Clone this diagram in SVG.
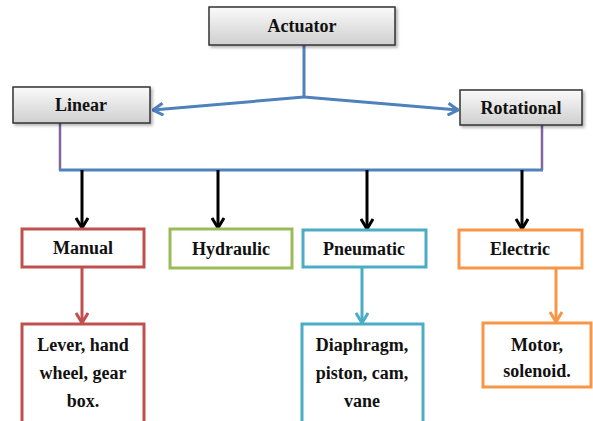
<svg xmlns="http://www.w3.org/2000/svg" width="593" height="421" viewBox="0 0 593 421">
<style>
.t{font-family:"Liberation Serif","Times New Roman",serif;font-weight:bold;font-size:18px;fill:#111;text-anchor:middle}
.g{fill:url(#gr);stroke:#333;stroke-width:1.5}
.c{fill:#fff;stroke-width:3}
.ln{fill:none;stroke-linecap:butt}
</style>
<defs>
<linearGradient id="gr" x1="0" y1="0" x2="0" y2="1">
<stop offset="0" stop-color="#fafafa"/>
<stop offset="1" stop-color="#cfcfcf"/>
</linearGradient>
<filter id="sh" x="-10%" y="-20%" width="130%" height="150%">
<feDropShadow dx="2" dy="2" stdDeviation="1.5" flood-color="#000" flood-opacity="0.3"/>
</filter>
<marker id="ab" viewBox="0 0 12 14" refX="11" refY="7" markerWidth="12" markerHeight="14" markerUnits="userSpaceOnUse" orient="auto"><path d="M1,1 L11,7 L1,13" fill="none" stroke="#4F81BD" stroke-width="3"/></marker>
<marker id="ak" viewBox="0 0 12 14" refX="11" refY="7" markerWidth="12" markerHeight="14" markerUnits="userSpaceOnUse" orient="auto"><path d="M1,1 L11,7 L1,13" fill="none" stroke="#000" stroke-width="3"/></marker>
<marker id="ar" viewBox="0 0 12 14" refX="11" refY="7" markerWidth="12" markerHeight="14" markerUnits="userSpaceOnUse" orient="auto"><path d="M1,1 L11,7 L1,13" fill="none" stroke="#C0504D" stroke-width="3"/></marker>
<marker id="ac" viewBox="0 0 12 14" refX="11" refY="7" markerWidth="12" markerHeight="14" markerUnits="userSpaceOnUse" orient="auto"><path d="M1,1 L11,7 L1,13" fill="none" stroke="#4BACC6" stroke-width="3"/></marker>
<marker id="ao" viewBox="0 0 12 14" refX="11" refY="7" markerWidth="12" markerHeight="14" markerUnits="userSpaceOnUse" orient="auto"><path d="M1,1 L11,7 L1,13" fill="none" stroke="#F79646" stroke-width="3"/></marker>
</defs>
<rect width="593" height="421" fill="#fff"/>
<g id="connectors">
<path class="ln" d="M304,45 V97" stroke="#4F81BD" stroke-width="3"/>
<path class="ln" d="M304,97 L153,110" stroke="#4F81BD" stroke-width="3" marker-end="url(#ab)"/>
<path class="ln" d="M304,97 L458,110" stroke="#4F81BD" stroke-width="3" marker-end="url(#ab)"/>
<path class="ln" d="M60,123 V170" stroke="#8064A2" stroke-width="2.5"/>
<path class="ln" d="M542,125 V170" stroke="#8064A2" stroke-width="2.5"/>
<path class="ln" d="M59,170 H543" stroke="#4F81BD" stroke-width="3"/>
<path class="ln" d="M82,170 V228" stroke="#000" stroke-width="3" marker-end="url(#ak)"/>
<path class="ln" d="M218,170 V228" stroke="#000" stroke-width="3" marker-end="url(#ak)"/>
<path class="ln" d="M367,170 V229" stroke="#000" stroke-width="3" marker-end="url(#ak)"/>
<path class="ln" d="M522,170 V229" stroke="#000" stroke-width="3" marker-end="url(#ak)"/>
<path class="ln" d="M82,267 V323" stroke="#C0504D" stroke-width="3" marker-end="url(#ar)"/>
<path class="ln" d="M362,267 V323" stroke="#4BACC6" stroke-width="3" marker-end="url(#ac)"/>
<path class="ln" d="M556,268 V322" stroke="#F79646" stroke-width="3" marker-end="url(#ao)"/>
</g>
<g id="actuator"><rect class="g" x="209" y="7" width="186" height="38" filter="url(#sh)"/><text class="t" x="302" y="32">Actuator</text></g>
<g id="linear"><rect class="g" x="13" y="87" width="137" height="36" filter="url(#sh)"/><text class="t" x="81" y="111">Linear</text></g>
<g id="rotational"><rect class="g" x="460" y="90" width="122" height="35" filter="url(#sh)"/><text class="t" x="521" y="114">Rotational</text></g>
<g id="manual"><rect class="c" x="22" y="229" width="122" height="38" stroke="#C0504D"/><text class="t" x="83" y="254">Manual</text></g>
<g id="hydraulic"><rect class="c" x="170" y="229" width="122" height="39" stroke="#9BBB59"/><text class="t" x="231" y="255">Hydraulic</text></g>
<g id="pneumatic"><rect class="c" x="303" y="230" width="123" height="37" stroke="#4BACC6"/><text class="t" x="364" y="255">Pneumatic</text></g>
<g id="electric"><rect class="c" x="459" y="230" width="123" height="38" stroke="#F79646"/><text class="t" x="520" y="255">Electric</text></g>
<g id="lever"><rect class="c" x="22" y="324" width="122" height="110" stroke="#C0504D"/><text class="t" x="83" y="351">Lever, hand</text><text class="t" x="83" y="379">wheel, gear</text><text class="t" x="83" y="407">box.</text></g>
<g id="diaphragm"><rect class="c" x="302" y="324" width="121" height="110" stroke="#4BACC6"/><text class="t" x="362" y="351">Diaphragm,</text><text class="t" x="362" y="379">piston, cam,</text><text class="t" x="362" y="407">vane</text></g>
<g id="motor"><rect class="c" x="483" y="323" width="108" height="64" stroke="#F79646"/><text class="t" x="537" y="351">Motor,</text><text class="t" x="537" y="377">solenoid.</text></g>
</svg>
